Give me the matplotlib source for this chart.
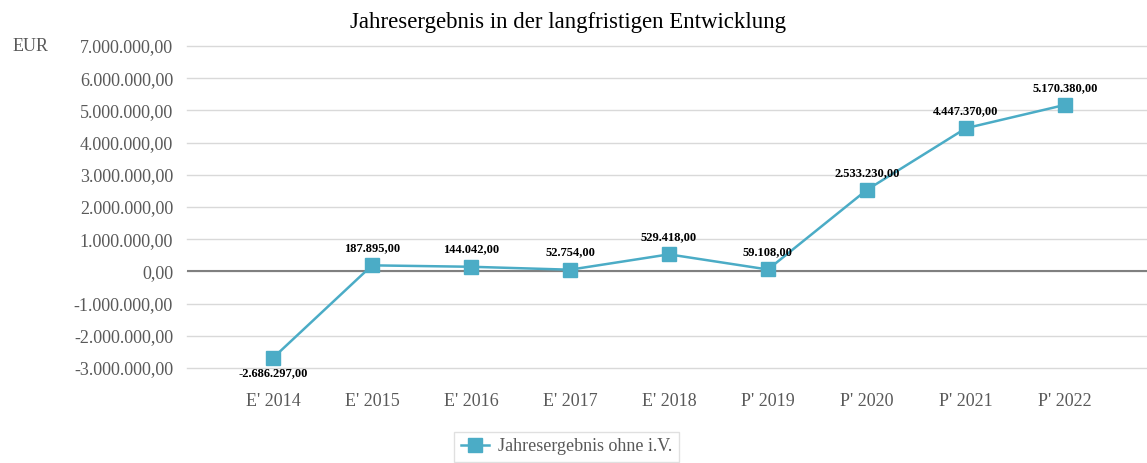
import matplotlib.pyplot as plt
from matplotlib.ticker import FuncFormatter
from matplotlib.lines import Line2D

plt.rcParams['font.family'] = ['Liberation Serif', 'DejaVu Serif']

# ---------- Data ----------
years = ["E' 2014", "E' 2015", "E' 2016", "E' 2017", "E' 2018",
         "P' 2019", "P' 2020", "P' 2021", "P' 2022"]
result = [-2686297.00, 187895.00, 144042.00, 52754.00, 529418.00,
          59108.00, 2533230.00, 4447370.00, 5170380.00]

LINE_C = "#4BACC6"
GRID_C = "#D9D9D9"
TEXT_C = "#595959"


def de_fmt(v, decimals=2):
    s = f"{v:,.{decimals}f}"
    return s.replace(",", "X").replace(".", ",").replace("X", ".")


fig = plt.figure(figsize=(11.47, 4.63), dpi=100)
ax = fig.add_axes([0.163, 0.2052, 0.837, 0.6954])

x = list(range(len(years)))
ax.plot(x, result, color=LINE_C, lw=1.8, marker="s", markersize=10,
        markerfacecolor=LINE_C, markeredgecolor=LINE_C, zorder=3)

for xi, v in zip(x, result):
    if v < 0:
        ax.annotate(de_fmt(v), (xi, v), xytext=(0, -7), textcoords="offset points",
                    ha="center", va="top", fontsize=9, weight="bold", color="black")
    else:
        ax.annotate(de_fmt(v), (xi, v), xytext=(0, 8), textcoords="offset points",
                    ha="center", va="bottom", fontsize=9, weight="bold", color="black")

ax.set_ylim(-3_000_000, 7_000_000)
ax.set_yticks(range(-3_000_000, 7_000_001, 1_000_000))
ax.yaxis.set_major_formatter(FuncFormatter(lambda v, p: de_fmt(v)))
ax.set_xlim(-0.87, 8.83)
ax.set_xticks(x)
ax.set_xticklabels(years)

ax.grid(axis="y", color=GRID_C, lw=1)
for gl in ax.get_ygridlines():
    gl.set_clip_on(False)
ax.set_axisbelow(True)
ax.axhline(0, color="#808080", lw=1.5, zorder=2)
for s in ax.spines.values():
    s.set_visible(False)
ax.tick_params(axis="both", length=0, labelsize=13, labelcolor=TEXT_C)
ax.tick_params(axis="y", pad=10)
ax.tick_params(axis="x", pad=18)

fig.text(0.495, 0.951, "Jahresergebnis in der langfristigen Entwicklung",
         ha="center", va="center", fontsize=16.5, color="black")
fig.text(0.011, 0.900, "EUR", ha="left", va="center", fontsize=13, color=TEXT_C)

handle = [Line2D([0], [0], color=LINE_C, lw=1.8, marker="s", markersize=10,
                 label="Jahresergebnis ohne i.V.")]
leg = fig.legend(handles=handle, loc="center", bbox_to_anchor=(0.494, 0.035),
                 frameon=True, fontsize=13, fancybox=False, handlelength=1.6,
                 borderpad=0.35, handletextpad=0.5)
leg.get_frame().set_edgecolor(GRID_C)
for t in leg.get_texts():
    t.set_color(TEXT_C)

fig.savefig("out.png", dpi=100, facecolor="white")
